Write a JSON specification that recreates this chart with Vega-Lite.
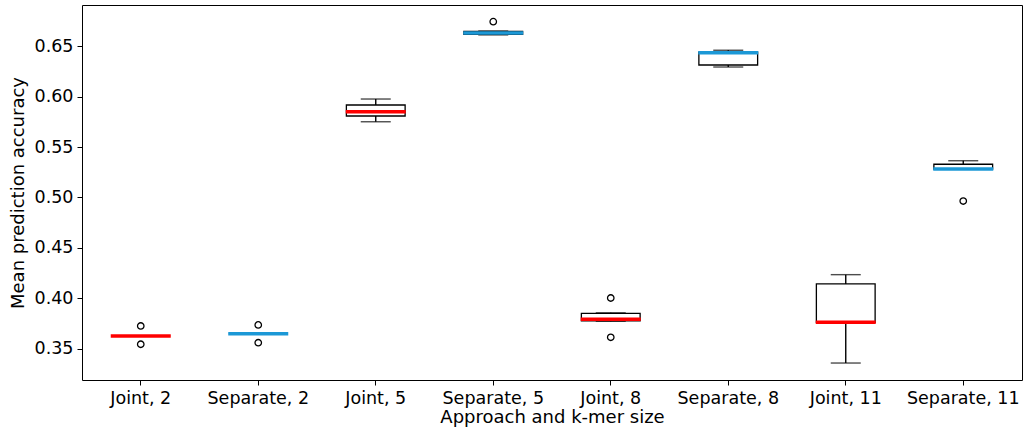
{
  "$schema": "https://vega.github.io/schema/vega-lite/v6.json",
  "width": 940,
  "height": 375,
  "autosize": "none",
  "padding": {"left": 82, "top": 5, "right": 7, "bottom": 50},
  "background": "white",
  "config": {
    "view": {"stroke": "#000000", "strokeWidth": 1},
    "font": "DejaVu Sans",
    "axis": {
      "grid": false,
      "domain": false,
      "tickColor": "#000000",
      "tickSize": 5,
      "labelColor": "#000000",
      "labelFontSize": 17.5,
      "labelFont": "DejaVu Sans",
      "titleFont": "DejaVu Sans",
      "titleFontSize": 18,
      "titleFontWeight": "normal",
      "titleColor": "#000000"
    }
  },
  "datasets": {
    "boxes": [
      {"label": "Joint, 2", "approach": "Joint", "lo": 0.3629, "q1": 0.3629, "med": 0.3629, "q3": 0.3629, "hi": 0.3629},
      {"label": "Separate, 2", "approach": "Separate", "lo": 0.3651, "q1": 0.3651, "med": 0.3651, "q3": 0.3651, "hi": 0.3651},
      {"label": "Joint, 5", "approach": "Joint", "lo": 0.575, "q1": 0.5807, "med": 0.585, "q3": 0.5916, "hi": 0.5975},
      {"label": "Separate, 5", "approach": "Separate", "lo": 0.661, "q1": 0.6615, "med": 0.663, "q3": 0.6645, "hi": 0.6648},
      {"label": "Joint, 8", "approach": "Joint", "lo": 0.3775, "q1": 0.3778, "med": 0.3794, "q3": 0.3853, "hi": 0.3858},
      {"label": "Separate, 8", "approach": "Separate", "lo": 0.6292, "q1": 0.6312, "med": 0.6434, "q3": 0.644, "hi": 0.6458},
      {"label": "Joint, 11", "approach": "Joint", "lo": 0.3361, "q1": 0.3764, "med": 0.3764, "q3": 0.4144, "hi": 0.4236},
      {"label": "Separate, 11", "approach": "Separate", "lo": 0.528, "q1": 0.528, "med": 0.5282, "q3": 0.5329, "hi": 0.5364}
    ],
    "outliers": [
      {"label": "Joint, 2", "value": 0.3728},
      {"label": "Joint, 2", "value": 0.3547},
      {"label": "Separate, 2", "value": 0.3738},
      {"label": "Separate, 2", "value": 0.3562},
      {"label": "Separate, 5", "value": 0.6741},
      {"label": "Joint, 8", "value": 0.4005},
      {"label": "Joint, 8", "value": 0.3616},
      {"label": "Separate, 11", "value": 0.4965}
    ]
  },
  "data": {"name": "boxes"},
  "encoding": {
    "x": {
      "field": "label",
      "type": "nominal",
      "sort": ["Joint, 2", "Separate, 2", "Joint, 5", "Separate, 5", "Joint, 8", "Separate, 8", "Joint, 11", "Separate, 11"],
      "scale": {"paddingInner": 0, "paddingOuter": 0},
      "axis": {"title": "Approach and k-mer size", "labelAngle": 0, "labelPadding": 4, "titlePadding": 2}
    }
  },
  "layer": [
    {
      "mark": {"type": "rule", "color": "#000000", "strokeWidth": 1.4},
      "encoding": {
        "y": {"field": "lo", "type": "quantitative",
          "scale": {"domain": [0.3193, 0.6906], "nice": false, "zero": false},
          "axis": {"title": "Mean prediction accuracy", "values": [0.35, 0.4, 0.45, 0.5, 0.55, 0.6, 0.65], "format": ".2f", "labelPadding": 4, "titlePadding": 7}},
        "y2": {"field": "q1"}
      }
    },
    {
      "mark": {"type": "rule", "color": "#000000", "strokeWidth": 1.4},
      "encoding": {
        "y": {"field": "q3", "type": "quantitative"},
        "y2": {"field": "hi"}
      }
    },
    {
      "mark": {"type": "bar", "fill": "#ffffff", "stroke": "#000000", "strokeWidth": 1.3, "width": {"band": 0.5}},
      "encoding": {
        "y": {"field": "q1", "type": "quantitative"},
        "y2": {"field": "q3"}
      }
    },
    {
      "mark": {"type": "tick", "color": "#000000", "size": 30, "thickness": 1.4},
      "encoding": {
        "y": {"field": "lo", "type": "quantitative"}
      }
    },
    {
      "mark": {"type": "tick", "color": "#000000", "size": 30, "thickness": 1.4},
      "encoding": {
        "y": {"field": "hi", "type": "quantitative"}
      }
    },
    {
      "mark": {"type": "tick", "size": 60, "thickness": 3.5, "opacity": 1},
      "encoding": {
        "y": {"field": "med", "type": "quantitative"},
        "color": {"field": "approach", "type": "nominal",
          "scale": {"domain": ["Joint", "Separate"], "range": ["#ff0000", "#1c98d6"]},
          "legend": null}
      }
    },
    {
      "data": {"name": "outliers"},
      "mark": {"type": "point", "shape": "circle", "filled": false, "stroke": "#000000", "strokeWidth": 1.3, "size": 42, "opacity": 1},
      "encoding": {
        "y": {"field": "value", "type": "quantitative"}
      }
    }
  ]
}
